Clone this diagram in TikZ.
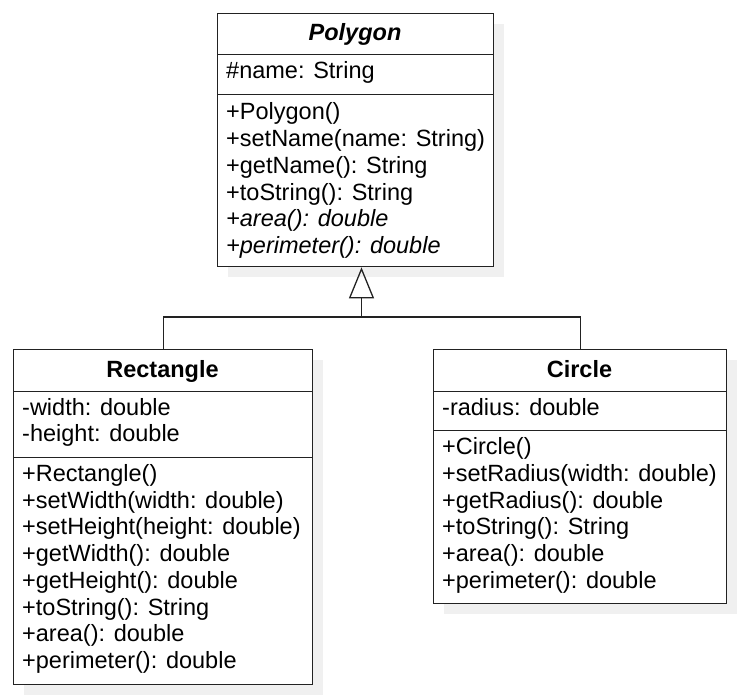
\documentclass[tikz,border=0pt]{standalone}
\usepackage{fontspec}
\setmainfont{Liberation Sans}
\usetikzlibrary{arrows.meta}
\definecolor{linec}{HTML}{222222}
\definecolor{shadowc}{HTML}{F0F0F0}
\begin{document}
\begin{tikzpicture}[x=1bp,y=-1bp,
  comp/.style={draw=linec, line width=1.3bp, fill=white, inner sep=0pt, anchor=north west},
  txt/.style={anchor=base west, inner sep=0pt, font=\fontsize{23.5bp}{27bp}\selectfont, text=black},
  ttl/.style={anchor=base, inner sep=0pt, font=\fontsize{23.5bp}{27bp}\selectfont\bfseries, text=black},
  conn/.style={draw=linec, line width=1.3bp},
  shade/.style={fill=shadowc}]
\useasboundingbox (0,0) rectangle (746,699);
% shadows
\fill[shade] (228,24) rectangle (504,277);
\fill[shade] (24,360) rectangle (323,694.5);
\fill[shade] (444,360) rectangle (737,614);
% Polygon
\node[comp, minimum width=276bp, minimum height=41bp] (ptitle) at (217,13) {};
\node[comp, minimum width=276bp, minimum height=40bp] (pattr) at (217,54) {};
\node[comp, minimum width=276bp, minimum height=172bp] (pmeth) at (217,94) {};
\node[ttl, font=\fontsize{23.5bp}{27bp}\selectfont\bfseries\itshape] (ptxt) at (355,41) {Polygon};
\node[txt] (pa1) at (226,78.5) {\#name: String};
\node[txt] (pm1) at (226,120) {+Polygon()};
\node[txt] (pm2) at (226,146.7) {+setName(name: String)};
\node[txt] (pm3) at (226,173.4) {+getName(): String};
\node[txt] (pm4) at (226,200.1) {+toString(): String};
\node[txt] (pm5) at (226,226.8) {\itshape +area(): double};
\node[txt] (pm6) at (226,253.5) {\itshape +perimeter(): double};
% Rectangle
\node[comp, minimum width=299bp, minimum height=42bp] (rtitle) at (13,349) {};
\node[comp, minimum width=299bp, minimum height=66bp] (rattr) at (13,391) {};
\node[comp, minimum width=299bp, minimum height=226.5bp] (rmeth) at (13,457) {};
\node[ttl] (rtxt) at (162.5,377) {Rectangle};
\node[txt] (ra1) at (22,415) {-width: double};
\node[txt] (ra2) at (22,441.7) {-height: double};
\node[txt] (rm1) at (22,481.5) {+Rectangle()};
\node[txt] (rm2) at (22,508.2) {+setWidth(width: double)};
\node[txt] (rm3) at (22,534.9) {+setHeight(height: double)};
\node[txt] (rm4) at (22,561.6) {+getWidth(): double};
\node[txt] (rm5) at (22,588.3) {+getHeight(): double};
\node[txt] (rm6) at (22,615) {+toString(): String};
\node[txt] (rm7) at (22,641.7) {+area(): double};
\node[txt] (rm8) at (22,668.4) {+perimeter(): double};
% Circle
\node[comp, minimum width=293bp, minimum height=42bp] (ctitle) at (433,349) {};
\node[comp, minimum width=293bp, minimum height=39bp] (cattr) at (433,391) {};
\node[comp, minimum width=293bp, minimum height=173bp] (cmeth) at (433,430) {};
\node[ttl] (ctxt) at (579.5,377) {Circle};
\node[txt] (ca1) at (442,415) {-radius: double};
\node[txt] (cm1) at (442,454.5) {+Circle()};
\node[txt] (cm2) at (442,481.3) {+setRadius(width: double)};
\node[txt] (cm3) at (442,508.1) {+getRadius(): double};
\node[txt] (cm4) at (442,534.9) {+toString(): String};
\node[txt] (cm5) at (442,561.7) {+area(): double};
\node[txt] (cm6) at (442,588.5) {+perimeter(): double};
% connectors
\coordinate (j) at (361.5,317);
\draw[conn] (rtitle.north) |- (j) -| (ctitle.north);
\draw[conn, -{Triangle[open, length=31bp, width=25bp, line width=1.3bp]}] (j) -- (j |- pmeth.south);
\end{tikzpicture}
\end{document}
